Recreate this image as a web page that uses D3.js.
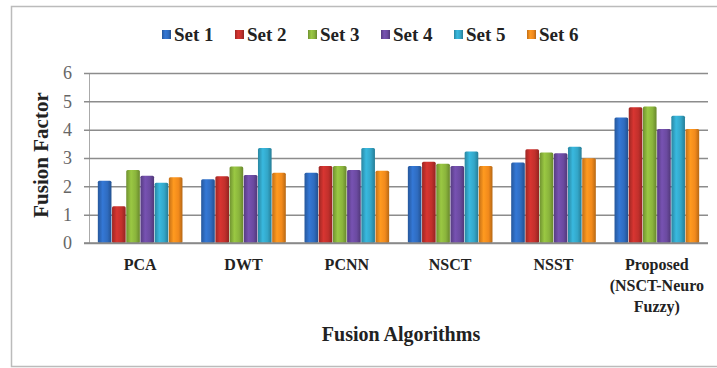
<!DOCTYPE html>
<html>
  <body style="margin:0;background:#fff">
    <script src="https://d3js.org/d3.v7.min.js"></script>
    <script type="text/javascript">
      const width = 717;
      const height = 368;
      const margin = {top: 73, right: 9, bottom: 125, left: 89};
      const categories = ['PCA', 'DWT', 'PCNN', 'NSCT', 'NSST', 'Proposed (NSCT-Neuro Fuzzy)'];
      const catLines = [['PCA'], ['DWT'], ['PCNN'], ['NSCT'], ['NSST'], ['Proposed', '(NSCT-Neuro', 'Fuzzy)']];
      const seriesNames = ['Set 1', 'Set 2', 'Set 3', 'Set 4', 'Set 5', 'Set 6'];
      const set1 = [2.2, 2.25, 2.48, 2.72, 2.84, 4.43];
      const set2 = [1.3, 2.36, 2.72, 2.87, 3.31, 4.79];
      const set3 = [2.58, 2.7, 2.72, 2.8, 3.19, 4.82];
      const set4 = [2.37, 2.4, 2.58, 2.72, 3.17, 4.02];
      const set5 = [2.13, 3.35, 3.35, 3.23, 3.4, 4.49];
      const set6 = [2.32, 2.48, 2.55, 2.72, 2.99, 4.02];
      const yTicks = [0, 1, 2, 3, 4, 5, 6];
      const colors = ['#2f6cc0', '#c2302c', '#8ab43c', '#6b4aa0', '#33a6c8', '#f28a1c'];
      const series = [set1, set2, set3, set4, set5, set6];

      const svg = d3.select('body').append('svg')
        .attr('width', width)
        .attr('height', height)
        .style('font-family', '"Liberation Serif", "Times New Roman", serif');

      // gradients for the bevelled bar look
      const defs = svg.append('defs');
      colors.forEach((c, i) => {
        const g = defs.append('linearGradient').attr('id', 'g' + i)
          .attr('x1', 0).attr('x2', 1).attr('y1', 0).attr('y2', 0);
        g.append('stop').attr('offset', '0%').attr('stop-color', d3.color(c).darker(0.6));
        g.append('stop').attr('offset', '35%').attr('stop-color', d3.color(c).brighter(0.3));
        g.append('stop').attr('offset', '70%').attr('stop-color', c);
        g.append('stop').attr('offset', '100%').attr('stop-color', d3.color(c).darker(0.8));
      });

      svg.append('rect')
        .attr('x', 11.5).attr('y', 6.5)
        .attr('width', 730).attr('height', 360)
        .attr('fill', 'none').attr('stroke', '#bbb').attr('stroke-width', 1.5);

      const innerW = width - margin.left - margin.right;
      const innerH = height - margin.top - margin.bottom;

      const x = d3.scaleBand().domain(categories).range([0, innerW]).paddingInner(0.17).paddingOuter(0.08);
      const xs = d3.scaleBand().domain(seriesNames).range([0, x.bandwidth()]).padding(0.04);
      const y = d3.scaleLinear().domain([0, 6]).range([innerH, 0]);

      const g = svg.append('g').attr('transform', `translate(${margin.left},${margin.top})`);

      const yAxis = g.append('g').call(d3.axisLeft(y).tickValues(yTicks).tickSize(-innerW).tickFormat(d3.format('d')));
      yAxis.select('.domain').attr('stroke', '#aaa');
      yAxis.selectAll('.tick line').attr('x1', -5).attr('stroke', '#8c8c8c').attr('stroke-width', 1.5);
      yAxis.selectAll('.tick text')
        .attr('x', -17)
        .attr('fill', '#666')
        .style('font-size', '18px')
        .style('font-family', '"Liberation Serif", serif');

      categories.forEach((c, ci) => {
        series.forEach((s, si) => {
          g.append('rect')
            .attr('x', x(c) + xs(seriesNames[si]))
            .attr('y', y(s[ci]))
            .attr('width', xs.bandwidth())
            .attr('height', innerH - y(s[ci]))
            .attr('rx', 1.5)
            .attr('fill', `url(#g${si})`);
        });
      });

      g.append('line')
        .attr('x1', -5).attr('x2', innerW)
        .attr('y1', innerH).attr('y2', innerH)
        .attr('stroke', '#888').attr('stroke-width', 1.5);

      // category labels
      categories.forEach((c, ci) => {
        const t = g.append('text')
          .attr('x', x(c) + x.bandwidth() / 2)
          .attr('y', innerH + 27)
          .attr('text-anchor', 'middle')
          .attr('font-weight', 'bold')
          .attr('font-size', 16)
          .attr('fill', '#222');
        catLines[ci].forEach((line, li) => {
          t.append('tspan')
            .attr('x', x(c) + x.bandwidth() / 2)
            .attr('dy', li === 0 ? 0 : 21)
            .text(line);
        });
      });

      svg.append('text')
        .attr('x', 401)
        .attr('y', 341)
        .attr('text-anchor', 'middle')
        .attr('font-weight', 'bold')
        .attr('font-size', 20)
        .attr('fill', '#222')
        .text('Fusion Algorithms');

      svg.append('text')
        .attr('transform', `translate(48,155) rotate(-90)`)
        .attr('text-anchor', 'middle')
        .attr('font-weight', 'bold')
        .attr('font-size', 21)
        .attr('fill', '#222')
        .text('Fusion Factor');

      // legend
      const legend = svg.append('g');
      let lx = 0;
      seriesNames.forEach((n, i) => {
        const item = legend.append('g').attr('transform', `translate(${lx},0)`);
        item.append('rect').attr('x', 0).attr('y', -11).attr('width', 9).attr('height', 9).attr('fill', `url(#g${i})`);
        item.append('text').attr('x', 12).attr('y', 0)
          .attr('font-weight', 'bold').attr('font-size', 19).attr('fill', '#222').text(n);
        lx += 73;
      });
      legend.attr('transform', 'translate(162,41)');
    </script>
  </body>
</html>
